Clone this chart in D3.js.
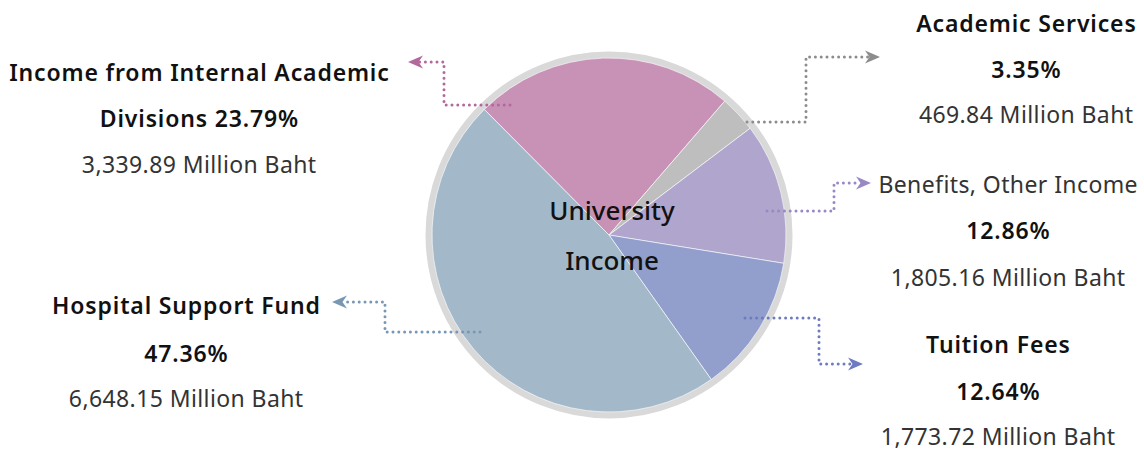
<!DOCTYPE html>
<html>
<head>
<meta charset="utf-8">
<script src="https://cdn.jsdelivr.net/npm/d3@7"></script>
<style>
  html, body { margin: 0; padding: 0; background: #fff; }
  svg { display: block; font-family: "Noto Sans", "Open Sans", sans-serif; }
</style>
</head>
<body>
<svg id="chart" width="1144" height="452"></svg>
<script>
// ---- data ----
const categories = ["Income from Internal Academic Divisions", "Academic Services", "Benefits, Other Income", "Tuition Fees", "Hospital Support Fund"];
const percents = [23.79, 3.35, 12.86, 12.64, 47.36];
const amounts = ["3,339.89", "469.84", "1,805.16", "1,773.72", "6,648.15"];
const unit = "Million Baht";
const centerTitle = ["University", "Income"];

// ---- style / layout ----
const sliceColors = ["#c892b6", "#bebebe", "#b0a5cd", "#929ecb", "#a3b8c9"];
const lineColors  = ["#b3689d", "#8c8c8c", "#9a88c4", "#6d7bc2", "#7897b4"];
const W = 1144, H = 452;
const cx = 609, cy = 235, R = 177;

const svg = d3.select("#chart");

const pie = d3.pie().sort(null).value(d => d)
  .startAngle(-44.8 * Math.PI / 180)
  .endAngle(-44.8 * Math.PI / 180 + 2 * Math.PI);
const arcs = pie(percents);
const arc = d3.arc().innerRadius(0).outerRadius(R);

const g = svg.append("g").attr("transform", `translate(${cx},${cy})`);
g.append("circle").attr("r", R + 3).attr("fill", "none").attr("stroke", "#d9d9d9").attr("stroke-width", 7);
g.selectAll("path.slice").data(arcs).enter().append("path")
  .attr("class", "slice")
  .attr("d", arc)
  .attr("fill", (d, i) => sliceColors[i])
  .attr("stroke", "#ffffff").attr("stroke-width", 0.6);

// center title
g.append("text").attr("text-anchor", "middle").attr("x", 3).attr("y", -15)
  .attr("font-size", 26).attr("font-weight", 500).attr("fill", "#111").text(centerTitle[0]);
g.append("text").attr("text-anchor", "middle").attr("x", 3).attr("y", 35)
  .attr("font-size", 26).attr("font-weight", 500).attr("fill", "#111").text(centerTitle[1]);

// ---- callouts (annotation layout) ----
const callouts = [
  { start: [-99, -130], elbowX: 444, endY: 62,  tipX: 408 },
  { start: [138, -113], elbowX: 806, endY: 57,  tipX: 880 },
  { start: [158, -24],  elbowX: 834, endY: 183, tipX: 871 },
  { start: [136, 83],   elbowX: 819, endY: 364, tipX: 863 },
  { start: [-129, 97],  elbowX: 385, endY: 302, tipX: 332 }
];
callouts.forEach((c, i) => {
  const sx = cx + c.start[0], sy = cy + c.start[1];
  const dir = c.tipX > c.elbowX ? 1 : -1;
  const pts = [[sx, sy], [c.elbowX, sy], [c.elbowX, c.endY], [c.tipX - dir * 11, c.endY]];
  svg.append("path")
    .attr("d", d3.line()(pts))
    .attr("fill", "none")
    .attr("stroke", lineColors[i])
    .attr("stroke-width", 3)
    .attr("stroke-linecap", "round")
    .attr("stroke-dasharray", "0 5.8");
  svg.append("path")
    .attr("d", "M0,0 L-15,-6.5 L-10.5,0 L-15,6.5 Z")
    .attr("transform", `translate(${c.tipX},${c.endY}) scale(${dir},1)`)
    .attr("fill", lineColors[i]);
});

// ---- labels ----
const fmtPct = p => p.toFixed(2) + "%";
const labelBlocks = [
  { x: 199, lines: [
      { t: "Income from Internal Academic", y: 81, b: true },
      { t: "Divisions " + fmtPct(percents[0]), y: 127, b: true },
      { t: amounts[0] + " " + unit, y: 173, b: false } ] },
  { x: 1026, lines: [
      { t: categories[1], y: 32, b: true },
      { t: fmtPct(percents[1]), y: 78, b: true },
      { t: amounts[1] + " " + unit, y: 123, b: false } ] },
  { x: 1008, lines: [
      { t: categories[2], y: 193, b: false },
      { t: fmtPct(percents[2]), y: 239, b: true },
      { t: amounts[2] + " " + unit, y: 286, b: false } ] },
  { x: 998, lines: [
      { t: categories[3], y: 353, b: true },
      { t: fmtPct(percents[3]), y: 400, b: true },
      { t: amounts[3] + " " + unit, y: 445, b: false } ] },
  { x: 186, lines: [
      { t: categories[4], y: 314, b: true },
      { t: fmtPct(percents[4]), y: 362, b: true },
      { t: amounts[4] + " " + unit, y: 407, b: false } ] }
];
labelBlocks.forEach(blk => {
  blk.lines.forEach(l => {
    const ls = l.b ? 0.85 : 0.4;
    svg.append("text")
      .attr("x", blk.x + ls / 2).attr("y", l.y)
      .attr("text-anchor", "middle")
      .attr("font-size", 23)
      .attr("font-weight", l.b ? 600 : 400)
      .attr("letter-spacing", ls)
      .attr("fill", l.b ? "#111" : "#333")
      .text(l.t);
  });
});
</script>
</body>
</html>
